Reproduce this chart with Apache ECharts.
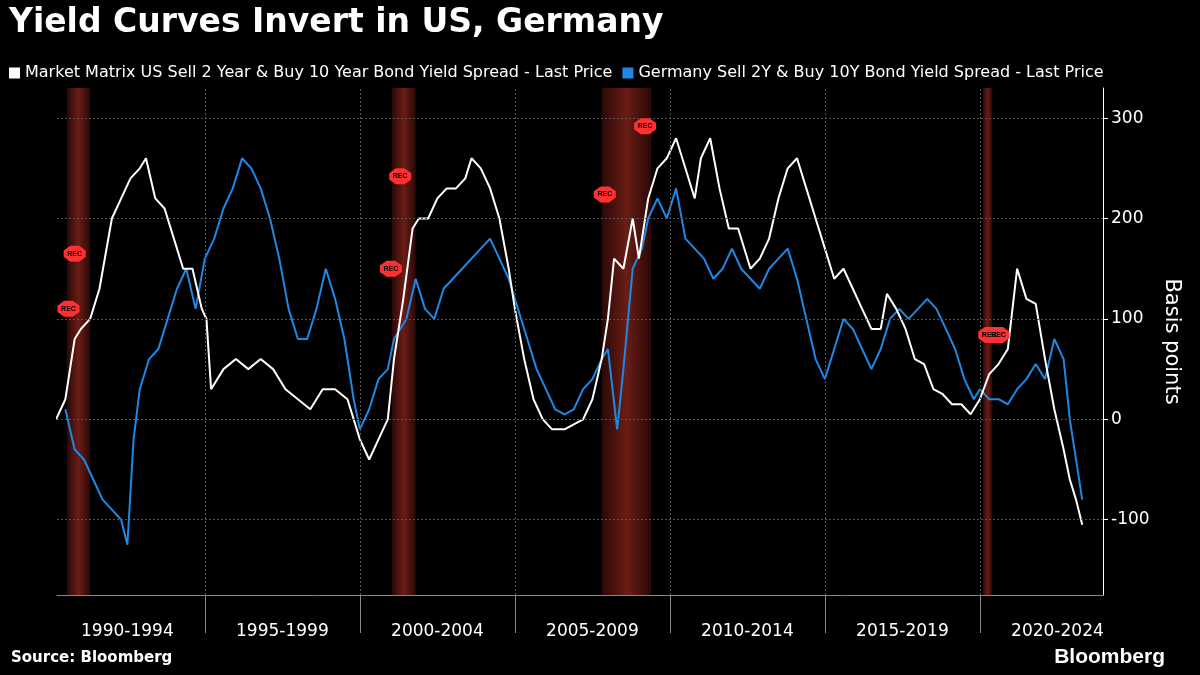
<!DOCTYPE html>
<html>
<head>
<meta charset="utf-8">
<script src="https://cdn.jsdelivr.net/npm/echarts@6/dist/echarts.min.js"></script>
<style>html,body{margin:0;padding:0;background:#000;}#main{width:1200px;height:675px;}</style>
</head>
<body>
<div id="main"></div>
<script>
var myChart = echarts.init(document.getElementById('main'));

// [decimal year, basis points]
var us = [
  [1990.2,0],[1990.5,20],[1990.8,80],[1991.0,90],[1991.3,100],[1991.6,130],[1992.0,200],[1992.3,220],
  [1992.6,240],[1992.9,250],[1993.1,260],[1993.4,220],[1993.7,210],[1994.0,180],[1994.3,150],[1994.6,150],
  [1994.9,110],[1995.05,100],[1995.2,30],[1995.6,50],[1996.0,60],[1996.4,50],[1996.8,60],[1997.2,50],
  [1997.6,30],[1998.0,20],[1998.4,10],[1998.8,30],[1999.2,30],[1999.6,20],[2000.0,-20],[2000.3,-40],
  [2000.6,-20],[2000.9,0],[2001.1,60],[2001.4,120],[2001.7,190],[2001.9,200],[2002.2,200],[2002.5,220],
  [2002.8,230],[2003.1,230],[2003.4,240],[2003.6,260],[2003.9,250],[2004.2,230],[2004.5,200],[2004.8,150],
  [2005.0,110],[2005.3,60],[2005.6,20],[2005.9,0],[2006.2,-10],[2006.6,-10],[2006.9,-5],[2007.2,0],
  [2007.5,20],[2007.8,60],[2008.0,100],[2008.2,160],[2008.5,150],[2008.8,200],[2009.0,160],[2009.3,220],
  [2009.6,250],[2009.9,260],[2010.2,280],[2010.5,250],[2010.8,220],[2011.0,260],[2011.3,280],[2011.6,230],
  [2011.9,190],[2012.2,190],[2012.6,150],[2012.9,160],[2013.2,180],[2013.5,220],[2013.8,250],[2014.1,260],
  [2014.4,230],[2014.7,200],[2015.0,170],[2015.3,140],[2015.6,150],[2015.9,130],[2016.2,110],[2016.5,90],
  [2016.8,90],[2017.0,125],[2017.3,110],[2017.6,90],[2017.9,60],[2018.2,55],[2018.5,30],[2018.8,25],
  [2019.1,15],[2019.4,15],[2019.7,5],[2020.0,20],[2020.3,45],[2020.6,55],[2020.9,70],[2021.2,150],
  [2021.5,120],[2021.8,115],[2022.1,60],[2022.4,10],[2022.7,-30],[2022.9,-60],[2023.1,-80],[2023.3,-105]
];
var de = [
  [1990.5,10],[1990.8,-30],[1991.1,-40],[1991.4,-60],[1991.7,-80],[1992.0,-90],[1992.3,-100],[1992.5,-125],
  [1992.7,-20],[1992.9,30],[1993.2,60],[1993.5,70],[1993.8,100],[1994.1,130],[1994.4,150],[1994.7,110],
  [1995.0,160],[1995.3,180],[1995.6,210],[1995.9,230],[1996.2,260],[1996.5,250],[1996.8,230],[1997.1,200],
  [1997.4,160],[1997.7,110],[1998.0,80],[1998.3,80],[1998.6,110],[1998.9,150],[1999.2,120],[1999.5,80],
  [1999.8,20],[2000.0,-10],[2000.3,10],[2000.6,40],[2000.9,50],[2001.1,80],[2001.5,100],[2001.8,140],
  [2002.1,110],[2002.4,100],[2002.7,130],[2003.0,140],[2003.3,150],[2003.6,160],[2003.9,170],[2004.2,180],
  [2004.5,160],[2004.8,140],[2005.1,110],[2005.4,80],[2005.7,50],[2006.0,30],[2006.3,10],[2006.6,5],
  [2006.9,10],[2007.2,30],[2007.5,40],[2007.8,60],[2008.0,70],[2008.3,-10],[2008.5,50],[2008.8,150],
  [2009.1,170],[2009.3,200],[2009.6,220],[2009.9,200],[2010.2,230],[2010.5,180],[2010.8,170],[2011.1,160],
  [2011.4,140],[2011.7,150],[2012.0,170],[2012.3,150],[2012.6,140],[2012.9,130],[2013.2,150],[2013.5,160],
  [2013.8,170],[2014.1,140],[2014.4,100],[2014.7,60],[2015.0,40],[2015.3,70],[2015.6,100],[2015.9,90],
  [2016.2,70],[2016.5,50],[2016.8,70],[2017.1,100],[2017.4,110],[2017.7,100],[2018.0,110],[2018.3,120],
  [2018.6,110],[2018.9,90],[2019.2,70],[2019.5,40],[2019.8,20],[2020.0,30],[2020.3,20],[2020.6,20],
  [2020.9,15],[2021.2,30],[2021.5,40],[2021.8,55],[2022.1,40],[2022.4,80],[2022.7,60],[2022.9,0],
  [2023.1,-40],[2023.3,-80]
];
var recessions = [[1990.55, 1991.3], [2001.03, 2001.8], [2007.8, 2009.4], [2020.1, 2020.4]];
var recMarks = [[1990.8,165],[1990.6,110],[2001.0,150],[2001.3,242],[2007.9,224],[2009.2,292],[2020.3,84],[2020.6,84]];
var yTicks = [-100, 0, 100, 200, 300];
var xLines = [1995, 2000, 2005, 2010, 2015, 2020];

var recFill = new echarts.graphic.LinearGradient(0, 0, 1, 0, [
  {offset: 0, color: '#2a0806'}, {offset: 0.5, color: '#6a1d16'}, {offset: 1, color: '#2a0806'}
]);

var option = {
  backgroundColor: '#000',
  title: [
    {text: 'Yield Curves Invert in US, Germany', left: 4, top: 2,
     textStyle: {color: '#fff', fontSize: 33, fontWeight: 'bold', fontFamily: 'DejaVu Sans'}},
    {text: 'Source: Bloomberg', left: 6, bottom: 4,
     textStyle: {color: '#fff', fontSize: 15, fontWeight: 'bold', fontFamily: 'DejaVu Sans'}},
    {text: 'Bloomberg', right: 30, bottom: 2,
     textStyle: {color: '#fff', fontSize: 21, fontWeight: 'bold', fontFamily: 'Liberation Sans'}}
  ],
  legend: {
    left: 4, top: 60, icon: 'rect', itemWidth: 11, itemHeight: 11, itemGap: 10,
    textStyle: {color: '#fff', fontSize: 16, fontFamily: 'DejaVu Sans'},
    data: [
      {name: 'Market Matrix US Sell 2 Year & Buy 10 Year Bond Yield Spread - Last Price', itemStyle: {color: '#fff'}},
      {name: 'Germany Sell 2Y & Buy 10Y Bond Yield Spread - Last Price', itemStyle: {color: '#1e88e5'}}
    ]
  },
  grid: {left: 57, right: 97, top: 88, bottom: 80},
  xAxis: {
    type: 'value', min: 1990.23, max: 2023.97,
    axisLine: {show: true, onZero: false, lineStyle: {color: '#888'}},
    axisTick: {show: true, customValues: xLines, length: 38, lineStyle: {color: '#888'}},
    axisLabel: {customValues: [1992.5, 1997.5, 2002.5, 2007.5, 2012.5, 2017.5, 2022.5],
                color: '#fff', fontSize: 17, margin: 28, fontFamily: 'DejaVu Sans',
                formatter: function (v) { var s = Math.round(v - 2.5); return s + '-' + (s + 4); }},
    splitLine: {show: false}
  },
  yAxis: {
    type: 'value', position: 'right', min: -175, max: 330,
    name: 'Basis points', nameLocation: 'middle', nameRotate: -90, nameGap: 55,
    nameTextStyle: {color: '#fff', fontSize: 21, fontFamily: 'DejaVu Sans'},
    axisLine: {show: true, lineStyle: {color: '#fff'}},
    axisTick: {show: true, customValues: yTicks, lineStyle: {color: '#fff'}},
    axisLabel: {customValues: yTicks, color: '#fff', fontSize: 17, fontFamily: 'DejaVu Sans'},
    splitLine: {show: false}
  },
  series: [
    {
      name: 'Market Matrix US Sell 2 Year & Buy 10 Year Bond Yield Spread - Last Price',
      type: 'line', data: us, showSymbol: false, z: 3,
      lineStyle: {color: '#fff', width: 2}, itemStyle: {color: '#fff'},
      markArea: {silent: true, itemStyle: {color: recFill},
                 data: recessions.map(function (r) { return [{xAxis: r[0]}, {xAxis: r[1]}]; })},
      markLine: {silent: true, symbol: 'none', label: {show: false},
                 lineStyle: {color: '#555', type: [2, 2], width: 1},
                 data: xLines.map(function (x) { return {xAxis: x}; })
                   .concat(yTicks.map(function (y) { return {yAxis: y}; }))},
      markPoint: {silent: true, symbol: 'path://M3,0 L7,0 L10,3 L10,7 L7,10 L3,10 L0,7 L0,3 Z',
                  symbolSize: [22, 16], itemStyle: {color: '#ff3030'},
                  label: {show: true, formatter: 'REC', color: '#000', fontSize: 7, fontWeight: 'bold'},
                  data: recMarks.map(function (p) { return {coord: p}; })}
    },
    {
      name: 'Germany Sell 2Y & Buy 10Y Bond Yield Spread - Last Price',
      type: 'line', data: de, showSymbol: false, z: 2,
      lineStyle: {color: '#1e88e5', width: 2}, itemStyle: {color: '#1e88e5'}
    }
  ]
};

option && myChart.setOption(option);
</script>
</body>
</html>
